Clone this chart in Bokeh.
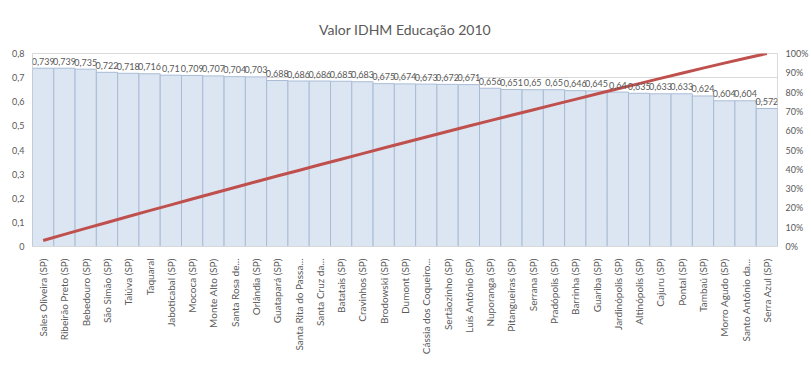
from bokeh.plotting import figure
from bokeh.models import (ColumnDataSource, Range1d, LinearAxis, CustomJSTickFormatter,
                          NumeralTickFormatter, FixedTicker)
from bokeh.core.properties import value
from bokeh.embed import file_html
from bokeh.resources import INLINE
import math

# Municipalities ordered by education IDHM (2010)
municipios = [
    "Sales Oliveira (SP)", "Ribeirão Preto (SP)", "Bebedouro (SP)", "São Simão (SP)",
    "Taiúva (SP)", "Taquaral", "Jaboticabal (SP)", "Mococa (SP)", "Monte Alto (SP)",
    "Santa Rosa de...", "Orlândia (SP)", "Guatapará (SP)", "Santa Rita do Passa...",
    "Santa Cruz da...", "Batatais (SP)", "Cravinhos (SP)", "Brodowski (SP)", "Dumont (SP)",
    "Cássia dos Coqueiro...", "Sertãozinho (SP)", "Luís Antônio (SP)", "Nuporanga (SP)",
    "Pitangueiras (SP)", "Serrana (SP)", "Pradópolis (SP)", "Barrinha (SP)", "Guariba (SP)",
    "Jardinópolis (SP)", "Altinópolis (SP)", "Cajuru (SP)", "Pontal (SP)", "Tambaú (SP)",
    "Morro Agudo (SP)", "Santo Antônio da...", "Serra Azul (SP)",
]
idhm = [
    0.739, 0.739, 0.735, 0.722, 0.718, 0.716, 0.71, 0.709, 0.707, 0.704, 0.703, 0.688,
    0.686, 0.686, 0.685, 0.683, 0.675, 0.674, 0.673, 0.672, 0.671, 0.656, 0.651, 0.65,
    0.65, 0.646, 0.645, 0.64, 0.635, 0.633, 0.633, 0.624, 0.604, 0.604, 0.572,
]

# Pareto line: cumulative share of the total
total = sum(idhm)
acumulado = []
s = 0.0
for v in idhm:
    s += v
    acumulado.append(s / total)

rotulos = [str(v).replace(".", ",") for v in idhm]

src = ColumnDataSource(data=dict(m=municipios, v=idhm, c=acumulado, lbl=rotulos))

FONT = "Lato"
GREY = "#595959"

p = figure(
    x_range=municipios, y_range=Range1d(0, 0.8),
    width=811, height=377, output_backend="svg", toolbar_location=None,
    min_border_left=32, min_border_right=24, min_border_top=53, min_border_bottom=131,
    title="Valor IDHM Educação 2010",
)
p.title.align = "center"
p.title.text_font = FONT
p.title.text_font_size = "14px"
p.title.text_font_style = "normal"
p.title.text_color = GREY
p.title.standoff = 32

p.extra_y_ranges = {"pct": Range1d(0, 1)}

p.vbar(x="m", top="v", width=1.0, source=src, fill_color="#dce6f2",
       line_color="#a9bcd5", line_width=1)
p.line(x="m", y="c", source=src, y_range_name="pct", line_color="#c0504d", line_width=3)
p.text(x="m", y="v", text="lbl", source=src, text_align="center",
       text_baseline="alphabetic", y_offset=-7, text_font=value(FONT),
       text_font_size="9px", text_color=GREY)

# Left axis
ax = p.yaxis[0]
ax.ticker = FixedTicker(ticks=[0, 0.1, 0.2, 0.3, 0.4, 0.5, 0.6, 0.7, 0.8])
ax.formatter = CustomJSTickFormatter(
    code="return tick === 0 ? '0' : tick.toFixed(1).replace('.', ',');")

# Right axis in percent
right = LinearAxis(y_range_name="pct",
                   ticker=FixedTicker(ticks=[i / 10 for i in range(11)]),
                   formatter=NumeralTickFormatter(format="0%"))
p.add_layout(right, "right")

for a in (ax, right):
    a.axis_line_color = None
    a.major_tick_line_color = None
    a.minor_tick_line_color = None
    a.major_label_text_font = FONT
    a.major_label_text_font_size = "9px"
    a.major_label_text_color = GREY
    a.major_label_standoff = 2

xa = p.xaxis[0]
xa.major_label_orientation = math.pi / 2
xa.axis_line_color = "#d9d9d9"
xa.major_tick_line_color = None
xa.major_label_text_font = FONT
xa.major_label_text_font_size = "10px"
xa.major_label_text_color = GREY
xa.major_label_standoff = 6

p.xgrid.grid_line_color = None
p.ygrid.grid_line_color = "#d9d9d9"
p.ygrid.ticker = ax.ticker
p.outline_line_color = "#d9d9d9"
p.background_fill_color = "white"
p.border_fill_color = "white"

open("out.html", "w").write(file_html(p, INLINE))
